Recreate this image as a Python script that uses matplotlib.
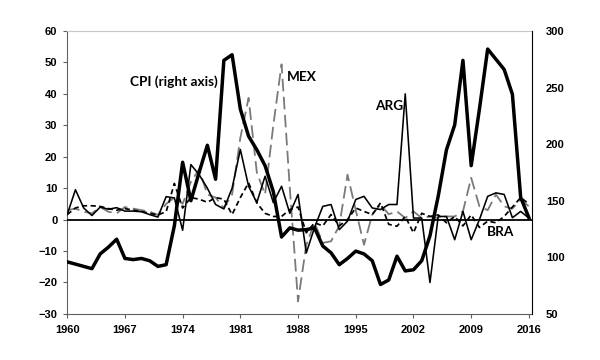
import matplotlib
matplotlib.use("Agg")
import matplotlib.pyplot as plt
import numpy as np

years = np.arange(1960, 2017)

# left axis series
arg = [1.6, 9.5, 3.7, 1.3, 4.0, 3.3, 3.8, 2.7, 2.7, 2.5,
       1.6, 0.8, 7.3, 6.9, -3.4, 17.5, 14.3, 10.0, 4.8, 3.4,
       10.0, 22.3, 10.6, 5.4, 13.8, 5.4, 10.6, 2.0, 8.0, -10.6,
       -2.5, 4.2, 4.8, -3.2, -0.5, 6.4, 7.4, 3.7, 3.2, 4.8,
       4.8, 40.0, 0.5, 0.5, -20.0, 1.0, 1.0, -6.4, 2.6, -6.4,
       0.0, 7.4, 8.5, 8.0, 0.6, 2.6, 0.5]
mex = [3.0, 3.5, 2.5, 2.0, 4.0, 2.5, 2.0, 4.0, 3.5, 3.0,
       2.5, 1.5, 5.0, 7.0, 5.0, 12.0, 16.0, 8.0, 7.0, 3.7,
       8.0, 26.0, 38.7, 15.0, 8.0, 30.0, 49.4, 10.0, -26.0, -8.0,
       -1.0, -7.4, -6.9, -2.0, 14.3, 3.0, -8.0, 1.6, 4.8, 1.7,
       2.6, 0.5, 2.6, 0.5, 1.0, 0.5, 1.0, 1.0, 2.6, 13.3,
       4.2, 3.0, 8.0, 4.2, 3.5, 6.4, 4.2]
bra = [1.6, 3.7, 4.4, 4.4, 4.2, 3.5, 3.0, 3.5, 3.0, 2.6,
       2.0, 1.5, 2.5, 11.5, 3.7, 7.0, 6.5, 5.5, 7.0, 6.5,
       1.6, 7.0, 11.7, 5.3, 2.0, 1.0, 1.0, 3.2, 4.0, -4.2,
       -1.0, -2.0, 1.6, -2.0, 0.0, 3.7, 2.6, 1.6, 5.3, -1.5,
       -2.1, 1.0, -4.2, 2.0, 1.0, 1.5, -1.0, 1.0, -2.0, 1.5,
       -2.5, -0.5, -1.0, 1.0, 4.0, 7.0, 5.0]

# right axis series
cpi = [96, 94, 92, 90, 103, 109, 116, 99, 98, 99,
       97, 92, 93.5, 128, 184, 150, 175, 199, 169, 274,
       279, 231, 207, 195, 181, 158, 118, 126, 124, 124.5,
       126, 110, 104, 93.5, 99, 105.5, 103, 97, 76, 80,
       101, 88, 89, 97, 119, 154, 195, 217, 274, 181,
       231, 284, 275, 266, 244, 153, 135]

xticks = [1960, 1967, 1974, 1981, 1988, 1995, 2002, 2009, 2016]

tickfont = {"family": "Liberation Sans", "weight": "bold", "size": 8}

fig = plt.figure(figsize=(6, 3.6), dpi=100)
ax = fig.add_axes([0.112, 0.128, 0.775, 0.786])
ax2 = ax.twinx()

ax.plot(years, arg, color="black", lw=1.15, zorder=3)
ax.plot(years, mex, color="#7a7a7a", lw=1.3, dashes=(7, 3), zorder=2)
ax.plot(years, bra, color="black", lw=1.25, dashes=(3, 2), zorder=2)
ax.axhline(0, color="black", lw=1.3, zorder=4)
ax2.plot(years, cpi, color="black", lw=2.5, zorder=5)

ax.set_xlim(1960, 2016.4)
ax.set_ylim(-30, 60)
ax.set_yticks(range(-30, 61, 10))
ax.set_xticks(xticks)
ax2.set_ylim(50, 300)
ax2.set_yticks(range(50, 301, 50))

for a in (ax, ax2):
    for lab in a.get_xticklabels() + a.get_yticklabels():
        lab.set_fontproperties(tickfont)

ax.tick_params(axis="y", length=3, width=0.8, color="#606060", pad=4)
ax.tick_params(axis="x", length=3, width=0.8, color="#606060", pad=5)
ax2.tick_params(axis="y", length=0, pad=10)

ax.spines["left"].set_color("#606060")
ax.spines["bottom"].set_color("#606060")
ax.spines["top"].set_color("#c8c8c8")
ax.spines["right"].set_visible(False)
ax2.spines["left"].set_visible(False)
ax2.spines["bottom"].set_visible(False)
ax2.spines["top"].set_visible(False)
ax2.spines["right"].set_color("black")

labfont = {"family": "Lato", "weight": "bold", "size": 9.8}
ax.text(1967.6, 43.8, "CPI (right axis)", ha="left", va="center", fontdict=labfont, zorder=6)
ax.text(1986.7, 45.5, "MEX", ha="left", va="center", fontdict=labfont, zorder=6)
ax.text(1997.3, 36.0, "ARG", ha="left", va="center", fontdict=labfont, zorder=6)
ax.text(2010.9, -4.1, "BRA", ha="left", va="center", fontdict=labfont, zorder=6)

fig.savefig("out.png", dpi=100)
